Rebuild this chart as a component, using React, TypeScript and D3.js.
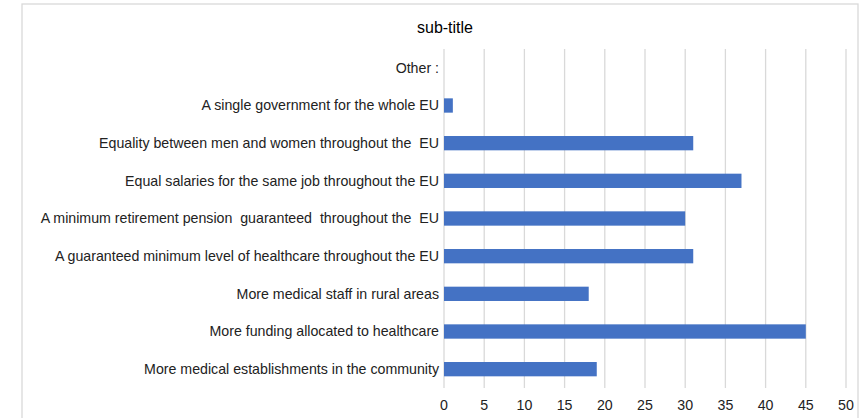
import React from "react";
import * as d3 from "d3";

const categories = [
  "Other :",
  "A single government for the whole EU",
  "Equality between men and women throughout the  EU",
  "Equal salaries for the same job throughout the EU",
  "A minimum retirement pension  guaranteed  throughout the  EU",
  "A guaranteed minimum level of healthcare throughout the EU",
  "More medical staff in rural areas",
  "More funding allocated to healthcare",
  "More medical establishments in the community",
];
const values = [0, 1.1, 31, 37, 30, 31, 18, 45, 19];
const ticks = [0, 5, 10, 15, 20, 25, 30, 35, 40, 45, 50];
const title = "sub-title";

export default function App() {
  const W = 865, H = 418;
  const x = d3.scaleLinear().domain([0, 50]).range([444, 846]);
  const y = d3.scaleBand().domain(categories).range([49, 388]).paddingInner(0.62).paddingOuter(0.31);
  const font = "'Liberation Sans', Arial, sans-serif";
  return (
    <svg width={W} height={H} style={{ position: "absolute", left: 0, top: 0 }}>
      <rect x={0} y={0} width={W} height={H} fill="#fff" />
      <rect x={22} y={4} width={836} height={430} fill="#fff" stroke="#d9d9d9" strokeWidth={1.3} />
      <text x={445} y={33} textAnchor="middle" fontFamily={font} fontSize={16} fill="#000">{title}</text>
      {ticks.map((t) => (
        <line key={t} x1={x(t)} x2={x(t)} y1={49} y2={388} stroke="#d9d9d9" strokeWidth={1.3} />
      ))}
      {categories.map((c, i) => (
        <g key={c}>
          <rect x={x(0)} y={y(c)!} width={x(values[i]) - x(0)} height={y.bandwidth()} fill="#4472C4" />
          <text x={439} y={y(c)! + y.bandwidth() / 2} dy="0.35em" textAnchor="end" fontFamily={font} fontSize={14.2} fill="#222" style={{ whiteSpace: "pre" }}>{c}</text>
        </g>
      ))}
      {ticks.map((t) => (
        <text key={"l" + t} x={x(t)} y={410} textAnchor="middle" fontFamily={font} fontSize={14.2} fill="#222">{t}</text>
      ))}
    </svg>
  );
}
